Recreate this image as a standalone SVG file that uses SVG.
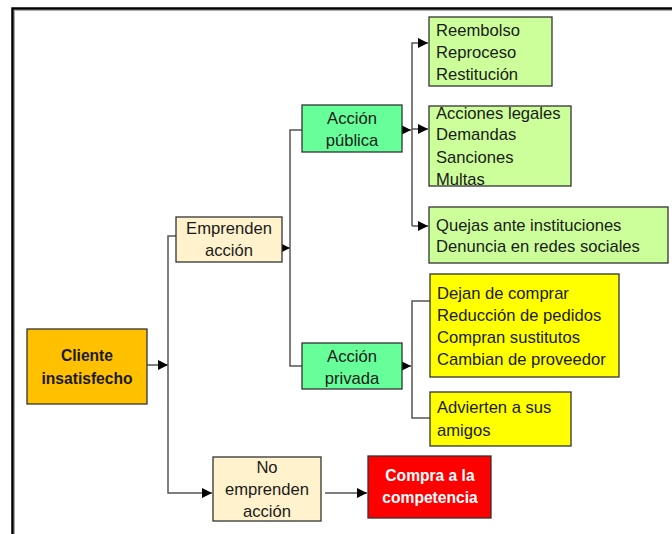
<svg xmlns="http://www.w3.org/2000/svg" width="672" height="534" viewBox="0 0 672 534">
<style>
.t{font-family:"Liberation Sans",Arial,sans-serif;font-size:16.6px;fill:#1a1a1a}
.c{text-anchor:middle}
.b{font-weight:bold;font-size:15.6px}
.box{stroke:#333;stroke-width:1.3}
.ln{fill:none;stroke:#555;stroke-width:1.5}
</style>
<defs>
<marker id="ah" markerWidth="11" markerHeight="11" refX="10" refY="5.5" orient="auto" markerUnits="userSpaceOnUse">
<path d="M0,0.5 L10,5.5 L0,10.5 Z" fill="#000"/>
</marker>
</defs>
<rect width="672" height="534" fill="#fff"/>
<path d="M12.5,540 V8.5 H680" fill="none" stroke="#000" stroke-width="2.5"/>
<path d="M14.5,540 V10.5 H680" fill="none" stroke="#aaa" stroke-width="1"/>

<g id="connectors">
<line class="ln" x1="147" y1="365" x2="168" y2="365" marker-end="url(#ah)"/>
<path class="ln" d="M176,236 H168 V493 H212" marker-end="url(#ah)"/>
<line class="ln" x1="282" y1="248" x2="290" y2="248" marker-end="url(#ah)"/>
<path class="ln" d="M302,130 H290 V366 H302"/>
<line class="ln" x1="402" y1="130" x2="411" y2="130" marker-end="url(#ah)"/>
<path class="ln" d="M412,226 V43 H428" marker-end="url(#ah)"/>
<line class="ln" x1="412" y1="129" x2="428" y2="129" marker-end="url(#ah)"/>
<line class="ln" x1="412" y1="226" x2="428" y2="226" marker-end="url(#ah)"/>
<line class="ln" x1="402" y1="366" x2="411" y2="366" marker-end="url(#ah)"/>
<path class="ln" d="M430,301 H412 V418 H430"/>
<line class="ln" x1="325" y1="493" x2="367" y2="493" marker-end="url(#ah)"/>
</g>

<g id="cliente">
<rect class="box" x="27" y="329" width="120" height="75" fill="#FFC000"/>
<text class="t c b" x="87" y="361">Cliente</text>
<text class="t c b" x="87" y="384">insatisfecho</text>
</g>

<g id="emprenden">
<rect class="box" x="176" y="217" width="106" height="45" fill="#FFF2CC"/>
<text class="t c" x="229" y="234">Emprenden</text>
<text class="t c" x="229" y="256">acción</text>
</g>

<g id="no-emprenden">
<rect class="box" x="213" y="457" width="108" height="64" fill="#FFF2CC"/>
<text class="t c" x="267" y="473">No</text>
<text class="t c" x="267" y="495">emprenden</text>
<text class="t c" x="267" y="517">acción</text>
</g>

<g id="competencia">
<rect class="box" x="368" y="456" width="123" height="62" fill="#FF0000"/>
<text class="t c b" x="430" y="481" style="fill:#fff">Compra a la</text>
<text class="t c b" x="430" y="503" style="fill:#fff">competencia</text>
</g>

<g id="publica">
<rect class="box" x="302" y="105" width="100" height="47" fill="#66FF99"/>
<text class="t c" x="352" y="124">Acción</text>
<text class="t c" x="352" y="146">pública</text>
</g>

<g id="privada">
<rect class="box" x="302" y="343" width="100" height="46" fill="#66FF99"/>
<text class="t c" x="352" y="362">Acción</text>
<text class="t c" x="352" y="384">privada</text>
</g>

<g id="reembolso">
<rect class="box" x="429" y="17" width="123" height="69" fill="#CCFF99"/>
<text class="t" x="436" y="36">Reembolso</text>
<text class="t" x="436" y="58">Reproceso</text>
<text class="t" x="436" y="80">Restitución</text>
</g>

<g id="legales">
<rect class="box" x="429" y="106" width="142" height="80" fill="#CCFF99"/>
<text class="t" x="436" y="119">Acciones legales</text>
<text class="t" x="436" y="140">Demandas</text>
<text class="t" x="436" y="163">Sanciones</text>
<text class="t" x="436" y="185">Multas</text>
</g>

<g id="quejas">
<rect class="box" x="429" y="207" width="239" height="56" fill="#CCFF99"/>
<text class="t" x="436" y="231">Quejas ante instituciones</text>
<text class="t" x="436" y="252">Denuncia en redes sociales</text>
</g>

<g id="dejan">
<rect class="box" x="430" y="274" width="189" height="103" fill="#FFFF00"/>
<text class="t" x="437" y="299">Dejan de comprar</text>
<text class="t" x="437" y="321">Reducción de pedidos</text>
<text class="t" x="437" y="343">Compran sustitutos</text>
<text class="t" x="437" y="365">Cambian de proveedor</text>
</g>

<g id="advierten">
<rect class="box" x="430" y="392" width="141" height="54" fill="#FFFF00"/>
<text class="t" x="437" y="413">Advierten a sus</text>
<text class="t" x="437" y="436">amigos</text>
</g>
</svg>
